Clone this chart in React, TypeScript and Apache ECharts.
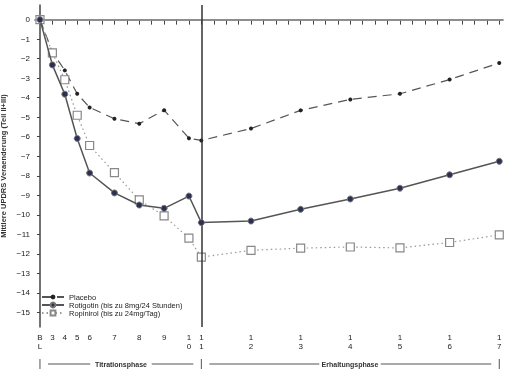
import React, { useEffect, useRef } from "react";
import * as echarts from "echarts";

const visitWeeks = [0, 1, 2, 3, 4, 6, 8, 10, 12, 13, 17, 21, 25, 29, 33, 37];
const visitLabels = ["BL", "3", "4", "5", "6", "7", "8", "9", "10", "11", "12", "13", "14", "15", "16", "17"];
const placebo = [0, -1.65, -2.6, -3.8, -4.5, -5.08, -5.33, -4.64, -6.08, -6.19, -5.58, -4.65, -4.09, -3.8, -3.07, -2.22];
const rotigotin = [0, -2.32, -3.82, -6.09, -7.86, -8.88, -9.5, -9.67, -9.04, -10.4, -10.32, -9.72, -9.19, -8.64, -7.95, -7.26];
const ropinirol = [0, -1.7, -3.08, -4.9, -6.45, -7.84, -9.24, -10.06, -11.2, -12.17, -11.82, -11.71, -11.65, -11.7, -11.42, -11.03];
const seriesNames = ["Placebo", "Rotigotin (bis zu 8mg/24 Stunden)", "Ropinirol (bis zu 24mg/Tag)"];
const yTicks = [-15, -14, -13, -12, -11, -10, -9, -8, -7, -6, -5, -4, -3, -2, -1, 0];
const weekTicks = Array.from({ length: 38 }, (_, i) => i);
const phases = [
  { name: "Titrationsphase", start: 0, end: 13 },
  { name: "Erhaltungsphase", start: 13, end: 37 },
];
const phaseBoundary = 13;

const FONT = "Liberation Sans";

export default function App() {
  const ref = useRef<HTMLDivElement>(null);
  useEffect(() => {
    if (!ref.current) return;
    const chart = echarts.init(ref.current, null, { renderer: "svg" });
    const toPairs = (vals: number[]) => vals.map((v, i) => [visitWeeks[i], v]);
    const option: any = {
      animation: false,
      backgroundColor: "#fff",
      grid: { left: 35, right: 5, top: 5, bottom: 49, containLabel: false, outerBoundsMode: "none" },
      legend: {
        orient: "vertical",
        left: 36,
        top: 288,
        itemWidth: 22,
        itemHeight: 6,
        itemGap: 0,
        textStyle: { fontFamily: FONT, fontSize: 7.5, color: "#222", lineHeight: 8 },
        data: seriesNames,
      },
      xAxis: {
        type: "value",
        min: -0.4,
        max: 37.3,
        splitLine: { show: false },
        axisLine: { lineStyle: { color: "#444", width: 1.5 } },
        axisTick: { customValues: weekTicks, length: 5, lineStyle: { color: "#444" } },
        axisLabel: {
          customValues: visitWeeks,
          fontFamily: FONT,
          fontSize: 8,
          lineHeight: 9,
          color: "#222",
          margin: 6,
          formatter: (v: number) => {
            const i = visitWeeks.indexOf(v);
            return i >= 0 ? visitLabels[i].split("").join("\n") : "";
          },
        },
      },
      yAxis: {
        type: "value",
        min: -15.75,
        max: 0.75,
        name: "Mittlere UPDRS Veraenderung (Teil II+III)",
        nameLocation: "middle",
        nameGap: 28,
        nameMoveOverlap: false,
        nameRotate: 90,
        nameTextStyle: { fontFamily: FONT, fontSize: 7.5, fontWeight: "bold", color: "#333" },
        splitLine: { show: false },
        axisLine: { show: true, lineStyle: { color: "#444", width: 1.5 } },
        axisTick: { show: true, customValues: yTicks, length: 3, lineStyle: { color: "#444" } },
        axisLabel: {
          customValues: yTicks,
          fontFamily: FONT,
          fontSize: 8,
          color: "#222",
          margin: 5,
          formatter: (v: number) => (v < 0 ? "\u2212" + Math.abs(v) : String(v)),
        },
      },
      series: [
        {
          name: seriesNames[0],
          type: "line",
          data: toPairs(placebo),
          z: 3,
          symbol: "circle",
          symbolSize: 4,
          itemStyle: { color: "#222" },
          lineStyle: { color: "#555", width: 1.2, type: [9, 6] },
          markLine: {
            silent: true,
            symbol: "none",
            label: { show: false },
            data: [
              { yAxis: 0, lineStyle: { color: "#999", width: 1.5, type: "solid" } },
              { xAxis: phaseBoundary, lineStyle: { color: "#333", width: 1.5, type: "solid" } },
            ],
          },
        },
        {
          name: seriesNames[2],
          type: "line",
          data: toPairs(ropinirol),
          z: 4,
          symbol: "rect",
          symbolSize: 8,
          itemStyle: { color: "#fff", borderColor: "#888", borderWidth: 1.2 },
          lineStyle: { color: "#999", width: 1.2, type: [1.5, 3] },
        },
        {
          name: seriesNames[1],
          type: "line",
          data: toPairs(rotigotin),
          z: 5,
          symbol: "circle",
          symbolSize: 6,
          itemStyle: { color: "#2b2f52", borderColor: "#777", borderWidth: 1 },
          lineStyle: { color: "#555", width: 1.5, type: "solid" },
        },
      ],
    };
    chart.setOption(option);

    const graphics: any[] = [];
    const yPos = 364;
    const px = (w: number) => chart.convertToPixel({ xAxisIndex: 0 }, w) as number;
    const boundaries = new Set<number>();
    phases.forEach((p) => {
      boundaries.add(p.start);
      boundaries.add(p.end);
      const x0 = px(p.start);
      const x1 = px(p.end);
      const cx = Math.round((x0 + x1) / 2);
      const tw = p.name.length * 3.3;
      graphics.push({
        type: "text",
        x: cx,
        y: yPos,
        style: {
          text: p.name,
          fontFamily: FONT,
          fontSize: 7,
          fontWeight: "bold",
          fill: "#333",
          align: "center",
          verticalAlign: "middle",
        },
      });
      graphics.push({
        type: "line",
        shape: { x1: x0 + 8, y1: yPos, x2: cx - tw / 2 - 6, y2: yPos },
        style: { stroke: "#555", lineWidth: 1 },
      });
      graphics.push({
        type: "line",
        shape: { x1: cx + tw / 2 + 6, y1: yPos, x2: x1 - 8, y2: yPos },
        style: { stroke: "#555", lineWidth: 1 },
      });
    });
    boundaries.forEach((b) => {
      const x = px(b);
      graphics.push({
        type: "line",
        shape: { x1: x, y1: yPos - 5, x2: x, y2: yPos + 5 },
        style: { stroke: "#555", lineWidth: 1 },
      });
    });
    chart.setOption({ graphic: graphics });

    return () => chart.dispose();
  }, []);
  return (
    <div
      ref={ref}
      style={{
        position: "absolute",
        left: 0,
        top: 0,
        width: 508,
        height: 376,
        background: "#fff",
        opacity: 0.999,
        willChange: "transform",
      }}
    />
  );
}
